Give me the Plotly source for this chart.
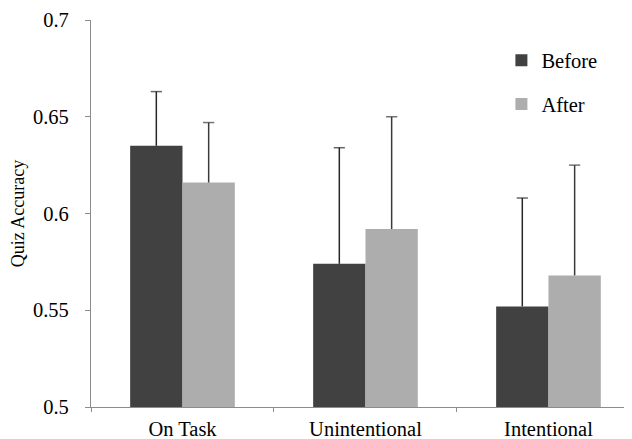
import plotly.graph_objects as go

categories = ["On Task", "Unintentional", "Intentional"]
before_vals = [0.635, 0.574, 0.552]
after_vals = [0.616, 0.592, 0.568]
before_err = [0.028, 0.060, 0.056]
after_err = [0.031, 0.058, 0.057]
y_ticks = [0.5, 0.55, 0.6, 0.65, 0.7]
y_tick_labels = ["0.5", "0.55", "0.6", "0.65", "0.7"]

FONT = "Liberation Serif, Times New Roman, serif"
BAR_GAP = 0.428


def err_path(cats, vals, errs):
    xs, ys, sizes = [], [], []
    for c, v, e in zip(cats, vals, errs):
        xs += [c, c, None]
        ys += [v, v + e, None]
        sizes += [0, 8, 0]
    return xs, ys, sizes


fig = go.Figure()
series = [
    ("Before", before_vals, before_err, "#414141", "#262626", "g1"),
    ("After", after_vals, after_err, "#adadad", "#3a3a3a", "g2"),
]
for name, vals, errs, col, ecol, grp in series:
    fig.add_trace(go.Bar(
        name=name, x=categories, y=vals,
        marker=dict(color=col, line=dict(width=0)),
        offsetgroup=grp, legendgroup=grp,
    ))
for name, vals, errs, col, ecol, grp in series:
    ex, ey, es = err_path(categories, vals, errs)
    fig.add_trace(go.Scatter(
        x=ex, y=ey, mode="lines+markers", offsetgroup=grp,
        line=dict(color=ecol, width=1.5),
        marker=dict(symbol="line-ew", size=es, color=ecol,
                    line=dict(color=ecol, width=1.5)),
        showlegend=False, hoverinfo="skip", cliponaxis=False,
    ))

fig.update_layout(
    width=624, height=431,
    margin=dict(l=83, r=1, t=12, b=32),
    paper_bgcolor="white", plot_bgcolor="white",
    barmode="group", bargap=BAR_GAP, bargroupgap=0,
    scattermode="group", scattergap=BAR_GAP,
    font=dict(family=FONT, size=20, color="black"),
    showlegend=True,
    legend=dict(x=0.76, y=0.947, xanchor="left", yanchor="top",
                bgcolor="rgba(0,0,0,0)", font=dict(size=20.5),
                traceorder="grouped", tracegroupgap=14, itemwidth=30),
    xaxis=dict(
        type="category", range=[-0.5, 2.451],
        showline=True, linecolor="#8c8c8c", linewidth=1.2,
        ticks="outside", tickson="boundaries", ticklen=4, tickcolor="#8c8c8c",
        showgrid=False, zeroline=False, automargin=False,
        tickfont=dict(size=20.5), ticklabelstandoff=3,
    ),
    yaxis=dict(
        range=[0.5, 0.7], tickvals=y_ticks, ticktext=y_tick_labels,
        showline=True, linecolor="#8c8c8c", linewidth=1.2,
        ticks="outside", ticklen=5, tickcolor="#8c8c8c",
        showgrid=False, zeroline=False, automargin=False,
        tickfont=dict(size=20.5), ticklabelstandoff=12,
        title=dict(text="Quiz Accuracy", font=dict(size=18), standoff=8),
    ),
)

fig.write_html("out.html")
